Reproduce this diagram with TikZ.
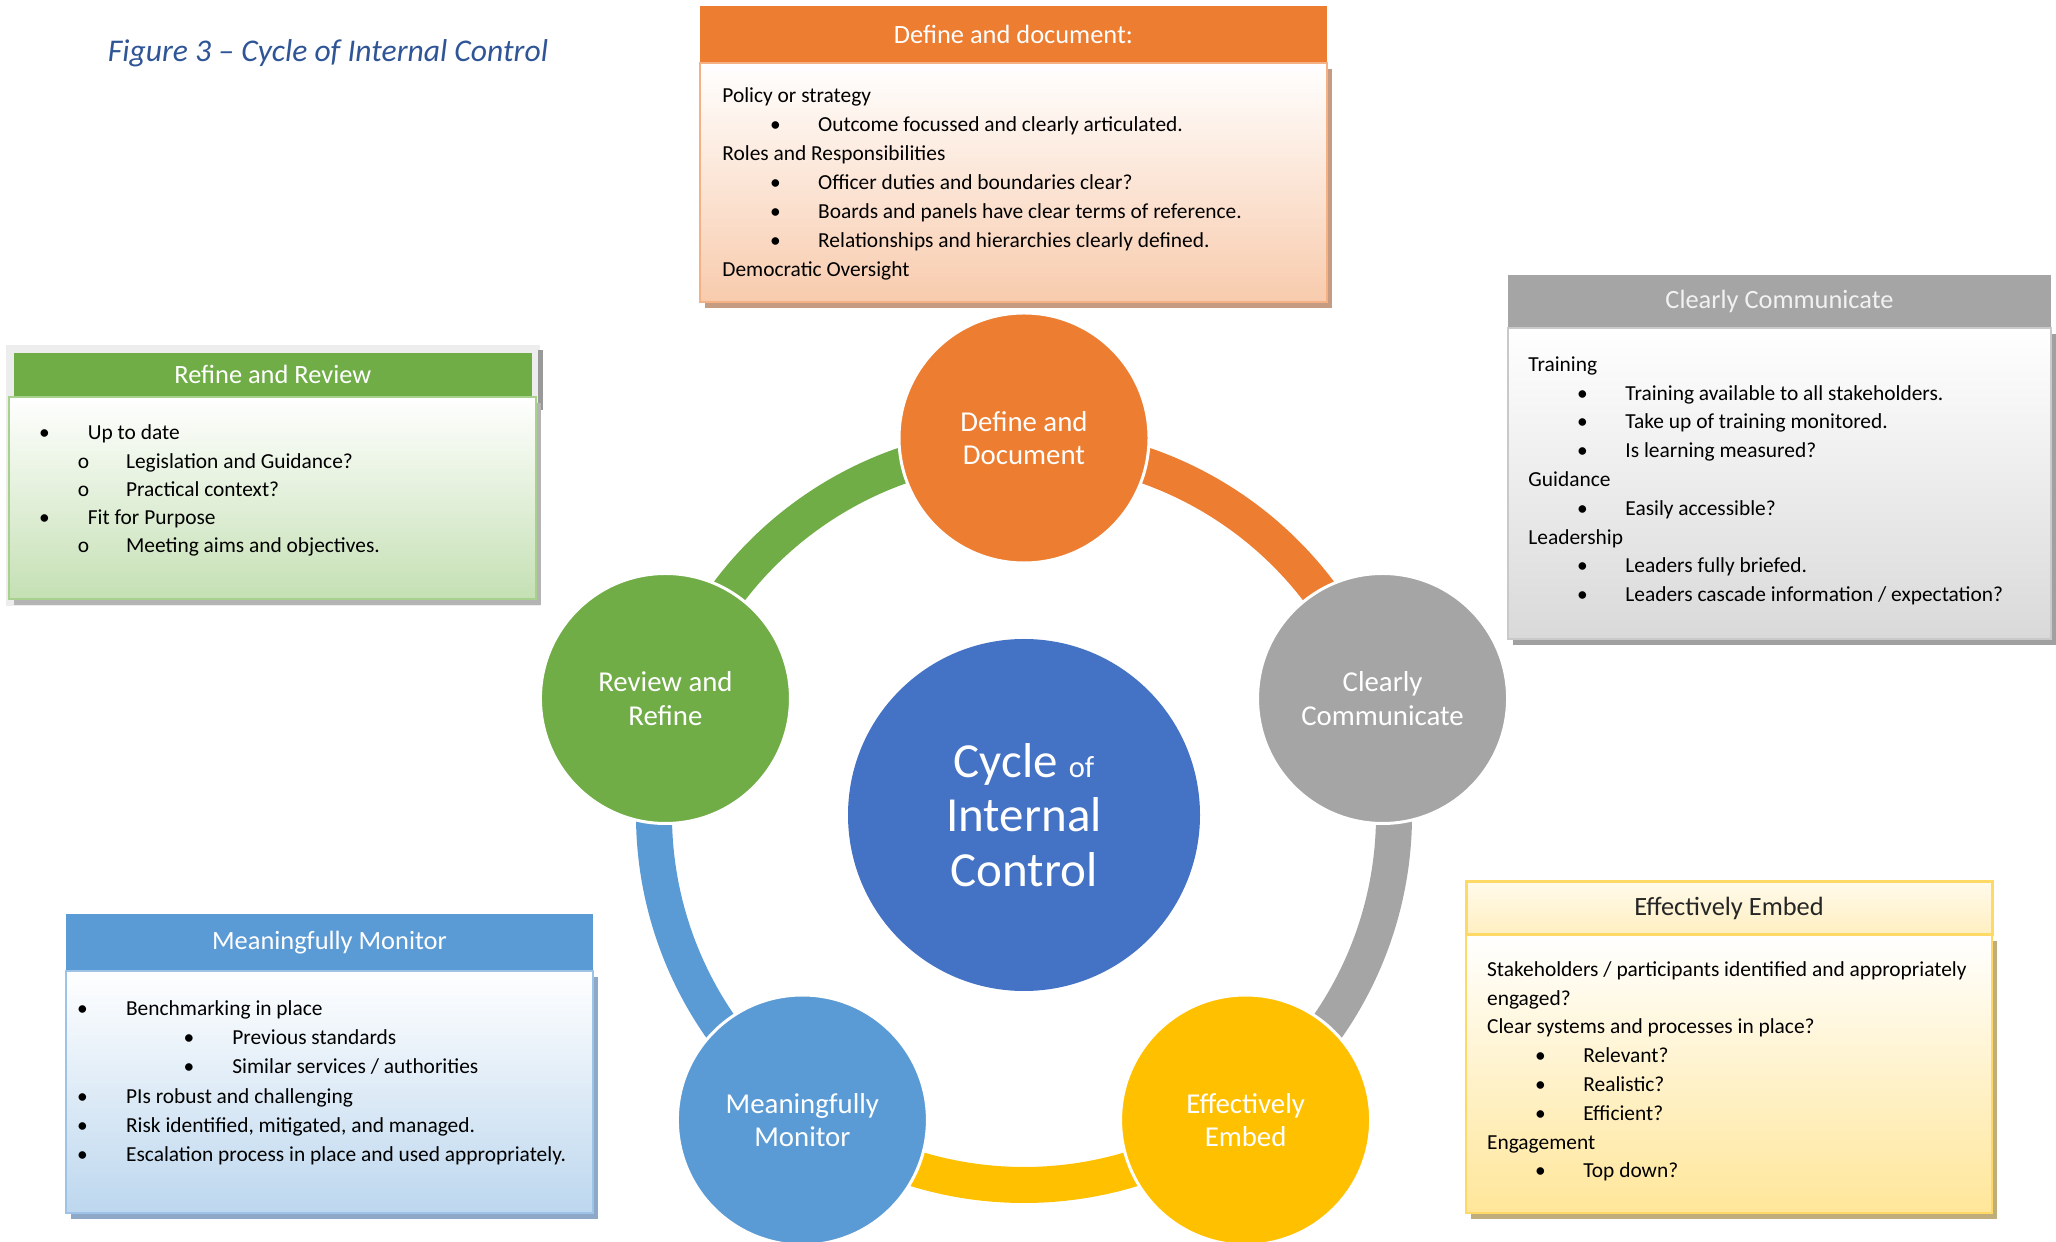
\documentclass[tikz,border=0pt]{standalone}
\usepackage{fontspec}
\setmainfont{Carlito}
\usepackage{tikz}
\usetikzlibrary{shadows,positioning}

\definecolor{defcol}{HTML}{ED7D31}
\definecolor{defbot}{HTML}{F8CBAD}
\definecolor{defline}{HTML}{F4B183}
\definecolor{defsh}{HTML}{C59B82}
\definecolor{comcol}{HTML}{A5A5A5}
\definecolor{combot}{HTML}{D9D9D9}
\definecolor{comline}{HTML}{C9C9C9}
\definecolor{comsh}{HTML}{A0A0A0}
\definecolor{embcol}{HTML}{FFC000}
\definecolor{embbot}{HTML}{FFE699}
\definecolor{embline}{HTML}{FFD966}
\definecolor{embhtop}{HTML}{FFFAEB}
\definecolor{embhbot}{HTML}{FFEFC0}
\definecolor{embsh}{HTML}{BFAE7C}
\definecolor{moncol}{HTML}{5B9BD5}
\definecolor{monbot}{HTML}{BDD7EE}
\definecolor{monline}{HTML}{9DC3E6}
\definecolor{monsh}{HTML}{8EA9C8}
\definecolor{revcol}{HTML}{70AD47}
\definecolor{revbot}{HTML}{C5E0B4}
\definecolor{revline}{HTML}{A9D18E}
\definecolor{revsh}{HTML}{B4B4B4}
\definecolor{cyccol}{HTML}{4472C4}
\definecolor{capcol}{HTML}{2F5597}

\newcommand{\bitem}[3]{\makebox[#2][l]{\hspace*{#1}\makebox[0pt]{\textbullet}}#3}
\newcommand{\oitem}[3]{\makebox[#2][l]{\hspace*{#1}\makebox[0pt]{o}}#3}

\begin{document}
\begin{tikzpicture}[x=0.5pt,y=0.5pt,
  stage/.style={circle,draw=white,line width=1.5pt,minimum size=125pt,inner sep=0pt,text=white,align=center,font=\fontsize{14.4}{16.7}\selectfont},
  ring/.style={line width=18pt},
  head/.style={rectangle,inner sep=0pt,outer sep=0pt,font=\fontsize{13.2}{16}\selectfont},
  panel/.style={rectangle,line width=1pt,inner sep=0pt,outer sep=0pt},
  lines/.style={anchor=north west,inner sep=0pt,align=left,font=\fontsize{10.7}{#1}\selectfont}]
  \useasboundingbox (0,0) rectangle (2056,1242);

  \node[anchor=base,text=capcol,font=\fontsize{15.8}{18}\selectfont\itshape] (cap) at (328,1180.3) {Figure 3 -- Cycle of Internal Control};

  % define and document
  \node[head,fill=defcol,text=white,minimum width=313.5pt,minimum height=28.5pt] (defhead) at (1013.5,1207.5) {Define and document:};
  \node[panel,draw=defline,top color=white,bottom color=defbot,minimum width=313.5pt,minimum height=119.5pt,
    drop shadow={fill=defsh,opacity=1,shadow xshift=2.5pt,shadow yshift=-3pt},below=0pt of defhead] (defbody) {};
  \node[lines=14.5] (deftext) at (722,1160.6) {\strut Policy or strategy\\
    \bitem{26.5pt}{47.9pt}{Outcome focussed and clearly articulated.}\\
    Roles and Responsibilities\\
    \bitem{26.5pt}{47.9pt}{Officer duties and boundaries clear?}\\
    \bitem{26.5pt}{47.9pt}{Boards and panels have clear terms of reference.}\\
    \bitem{26.5pt}{47.9pt}{Relationships and hierarchies clearly defined.}\\
    Democratic Oversight};

  % clearly communicate
  \node[head,fill=comcol,text=white!95!black,minimum width=271.5pt,minimum height=26.5pt] (comhead) at (1779.5,940.5) {Clearly Communicate};
  \node[panel,draw=comline,top color=white,bottom color=combot,minimum width=271.5pt,minimum height=155.5pt,
    drop shadow={fill=comsh,opacity=1,shadow xshift=2.5pt,shadow yshift=-3pt},below=0pt of comhead] (combody) {};
  \node[lines=14.4] (comtext) at (1528,891.3) {\strut Training\\
    \bitem{27pt}{48.5pt}{Training available to all stakeholders.}\\
    \bitem{27pt}{48.5pt}{Take up of training monitored.}\\
    \bitem{27pt}{48.5pt}{Is learning measured?}\\
    Guidance\\
    \bitem{27pt}{48.5pt}{Easily accessible?}\\
    Leadership\\
    \bitem{27pt}{48.5pt}{Leaders fully briefed.}\\
    \bitem{27pt}{48.5pt}{Leaders cascade information / expectation?}};

  % refine and review
  \fill[black!7] (6,897) rectangle (540,636);
  \fill[black!40] (538,892) rectangle (543,832);
  \node[head,fill=revcol,text=white,minimum width=259.2pt,minimum height=22pt] (revhead) at (272.8,867.3) {Refine and Review};
  \node[panel,draw=revline,top color=white,bottom color=revbot,minimum width=263.5pt,minimum height=101.15pt,
    drop shadow={fill=revsh,opacity=1,shadow xshift=2.5pt,shadow yshift=-3pt},below=0pt of revhead] (revbody) {};
  \node[lines=14.1] (revtext) at (22,822.3) {\strut\bitem{11pt}{32.75pt}{Up to date}\\
    \oitem{30.5pt}{51.85pt}{Legislation and Guidance?}\\
    \oitem{30.5pt}{51.85pt}{Practical context?}\\
    \bitem{11pt}{32.75pt}{Fit for Purpose}\\
    \oitem{30.5pt}{51.85pt}{Meeting aims and objectives.}};

  % meaningfully monitor
  \node[head,fill=moncol,text=white,minimum width=263.5pt,minimum height=28.35pt] (monhead) at (329.5,299.65) {Meaningfully Monitor};
  \node[panel,draw=monline,top color=white,bottom color=monbot,minimum width=263.5pt,minimum height=121pt,
    drop shadow={fill=monsh,opacity=1,shadow xshift=2.5pt,shadow yshift=-3pt},below=0pt of monhead] (monbody) {};
  \node[lines=14.6] (montext) at (70,247.3) {\strut\bitem{6pt}{27.85pt}{Benchmarking in place}\\
    \bitem{59.3pt}{81pt}{Previous standards}\\
    \bitem{59.3pt}{81pt}{Similar services / authorities}\\
    \bitem{6pt}{27.85pt}{PIs robust and challenging}\\
    \bitem{6pt}{27.85pt}{Risk identified, mitigated, and managed.}\\
    \bitem{6pt}{27.85pt}{Escalation process in place and used appropriately.}};

  % effectively embed
  \node[head,draw=embline,line width=1.5pt,top color=embhtop,bottom color=embhbot,text=black!85,minimum width=263pt,minimum height=26.65pt] (embhead) at (1729,333.65) {Effectively Embed};
  \node[panel,draw=embline,top color=white,bottom color=embbot,minimum width=263pt,minimum height=139pt,
    drop shadow={fill=embsh,opacity=1,shadow xshift=2.5pt,shadow yshift=-3pt},below=0pt of embhead] (embbody) {};
  \node[lines=14.4] (embtext) at (1486.7,286.3) {\strut Stakeholders / participants identified and appropriately\\
    engaged?\\
    Clear systems and processes in place?\\
    \bitem{26.65pt}{48.15pt}{Relevant?}\\
    \bitem{26.65pt}{48.15pt}{Realistic?}\\
    \bitem{26.65pt}{48.15pt}{Efficient?}\\
    Engagement\\
    \bitem{26.65pt}{48.15pt}{Top down?}};

  % cycle
  \node[circle,fill=cyccol,minimum size=176pt,inner sep=0pt,text=white,align=center,font=\fontsize{24.5}{27.3}\selectfont] (cyc) at (1024,427) {Cycle {\fontsize{15.3}{15}\selectfont of}\\Internal\\Control};
  \draw[ring,defcol] (cyc.center) ++(90:370) arc[start angle=90,end angle=18,radius=370];
  \draw[ring,comcol] (cyc.center) ++(18:370) arc[start angle=18,end angle=-54,radius=370];
  \draw[ring,embcol] (cyc.center) ++(-54:370) arc[start angle=-54,end angle=-126,radius=370];
  \draw[ring,moncol] (cyc.center) ++(-126:370) arc[start angle=-126,end angle=-198,radius=370];
  \draw[ring,revcol] (cyc.center) ++(162:370) arc[start angle=162,end angle=90,radius=370];
  \path (cyc.center) ++(90:377) node[stage,fill=defcol] (def) {Define and\\Document};
  \path (cyc.center) ++(18:377) node[stage,fill=comcol] (com) {Clearly\\Communicate};
  \path (cyc.center) ++(-54:377) node[stage,fill=embcol] (emb) {Effectively\\Embed};
  \path (cyc.center) ++(-126:377) node[stage,fill=moncol] (mon) {Meaningfully\\Monitor};
  \path (cyc.center) ++(162:377) node[stage,fill=revcol] (rev) {Review and\\Refine};
\end{tikzpicture}
\end{document}
